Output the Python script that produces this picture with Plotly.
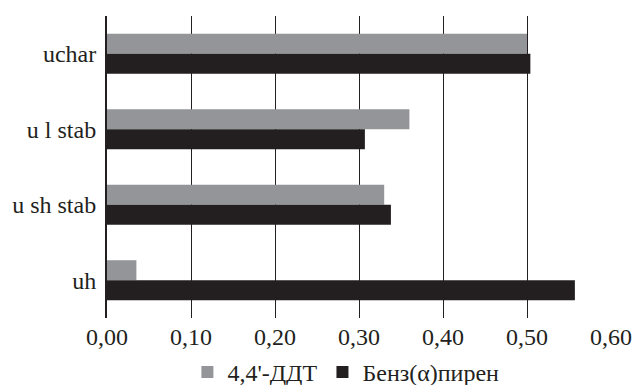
import plotly.graph_objects as go

categories = ["uchar", "u l stab", "u sh stab", "uh"]
ddt_values = [0.500, 0.360, 0.330, 0.035]
bap_values = [0.504, 0.307, 0.338, 0.557]
series_names = ["4,4'-ДДТ", "Бенз(α)пирен"]
x_ticks = [0.0, 0.1, 0.2, 0.3, 0.4, 0.5, 0.6]

font_family = "Liberation Serif, Times New Roman, DejaVu Serif, serif"

fig = go.Figure()
fig.add_trace(go.Bar(y=categories, x=ddt_values, orientation="h", name=series_names[0],
                     marker=dict(color="#939598", line=dict(width=0))))
fig.add_trace(go.Bar(y=categories, x=bap_values, orientation="h", name=series_names[1],
                     marker=dict(color="#231f20", line=dict(width=0))))

fig.update_layout(
    width=637, height=385,
    margin=dict(l=107, r=26, t=16, b=67, autoexpand=False),
    paper_bgcolor="white", plot_bgcolor="white",
    barmode="group", bargap=0.47, bargroupgap=0,
    separators=", ",
    font=dict(family=font_family, size=24, color="#231f20"),
    showlegend=True,
    legend=dict(orientation="h", x=0.474, xanchor="center", y=-0.18, yanchor="middle",
                font=dict(size=24, family=font_family), itemwidth=30,
                tracegroupgap=0, bgcolor="rgba(0,0,0,0)"),
    xaxis=dict(range=[0, 0.6], tickvals=x_ticks, tickformat=".2f",
               showgrid=True, gridcolor="#231f20", gridwidth=1,
               zeroline=False, showline=False, ticks="", automargin=False,
               ticklabelstandoff=2,
               tickfont=dict(size=24, family=font_family)),
    yaxis=dict(autorange="reversed", showgrid=False, zeroline=False,
               showline=True, linecolor="#231f20", linewidth=2, ticks="",
               ticklabelstandoff=4, automargin=False,
               tickfont=dict(size=24, family=font_family)),
)

fig.write_html("out.html", config={"displayModeBar": False},
               post_script="document.body.style.margin='0';document.body.style.padding='0';")
